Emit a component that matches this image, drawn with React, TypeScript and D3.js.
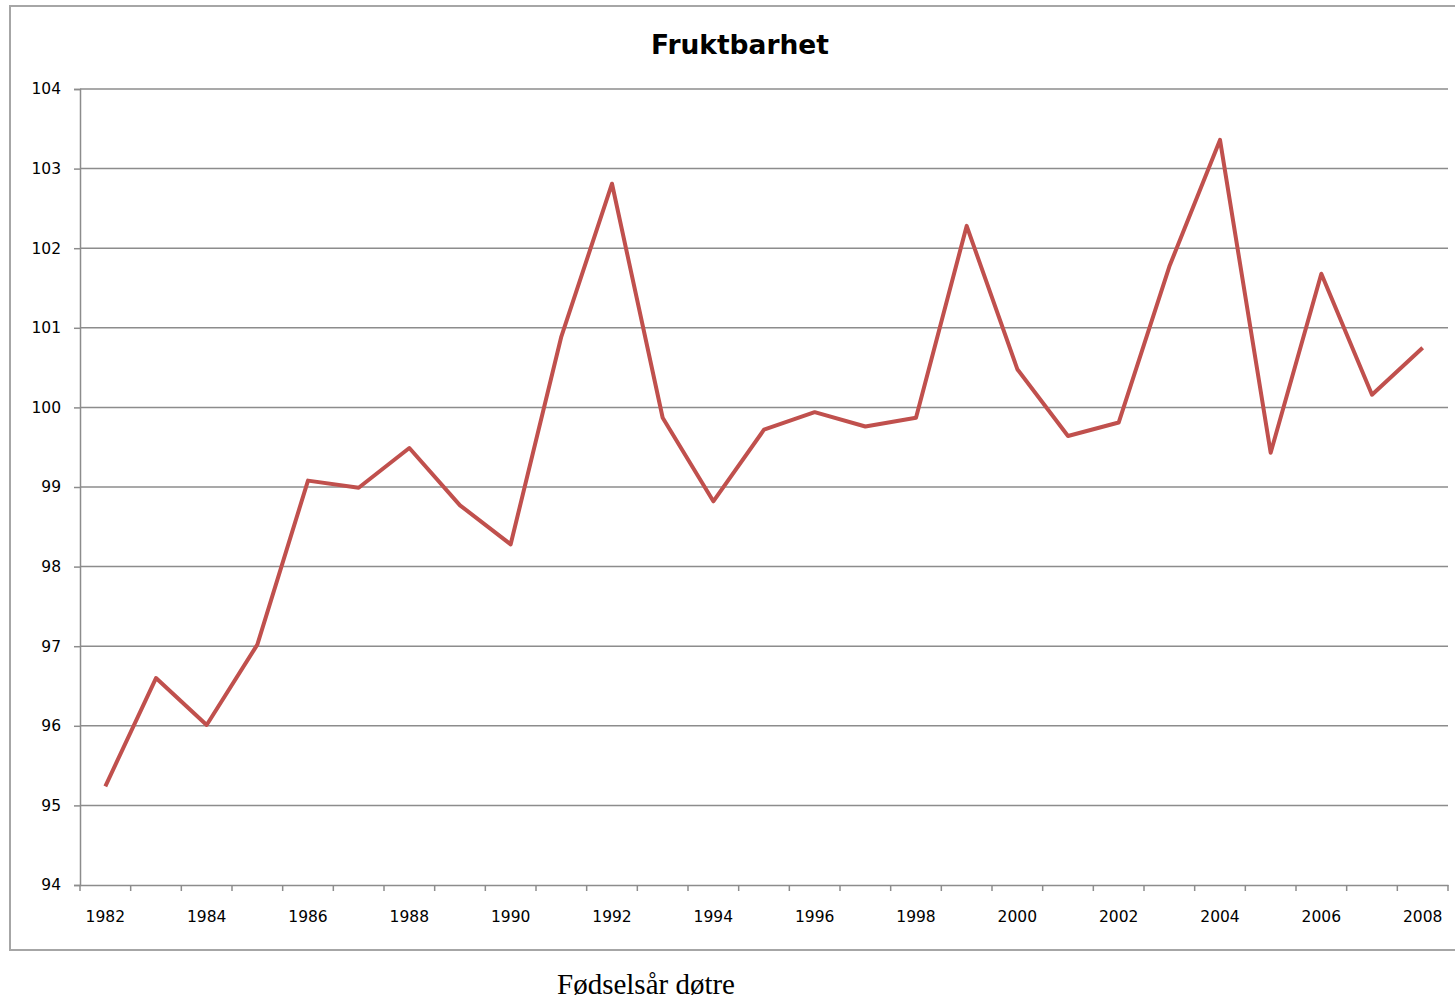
import React, { useEffect, useRef } from "react";
import * as d3 from "d3";

const years = [
  "1982", "1983", "1984", "1985", "1986", "1987", "1988", "1989", "1990",
  "1991", "1992", "1993", "1994", "1995", "1996", "1997", "1998", "1999",
  "2000", "2001", "2002", "2003", "2004", "2005", "2006", "2007", "2008",
];
const fertility = [
  95.24, 96.6, 96.01, 97.02, 99.08, 98.99, 99.49, 98.77, 98.28,
  100.89, 102.81, 99.87, 98.82, 99.72, 99.94, 99.76, 99.87, 102.28,
  100.48, 99.64, 99.81, 101.77, 103.36, 99.43, 101.68, 100.16, 100.75,
];
const yTicks = [94, 95, 96, 97, 98, 99, 100, 101, 102, 103, 104];

// Chart component
const App = () => {
  const ref = useRef<SVGSVGElement>(null);

  useEffect(() => {
    const width = 1455;
    const height = 999;
    const left = 80;
    const right = 1448;
    const top = 89;
    const bottom = 885;
    const gridColor = "#8c8c8c";

    const svg = d3.select(ref.current);
    svg.selectAll("*").remove();
    svg.attr("width", width).attr("height", height);

    // outer chart frame (right edge runs off the page)
    svg
      .append("rect")
      .attr("x", 10)
      .attr("y", 6)
      .attr("width", 1460)
      .attr("height", 944)
      .attr("fill", "white")
      .attr("stroke", "#a6a6a6")
      .attr("stroke-width", 2);

    const x = d3.scaleBand().domain(years).range([left, right]);
    const y = d3.scaleLinear().domain([94, 104]).range([bottom, top]);

    // gridlines
    svg
      .append("g")
      .selectAll("line")
      .data(yTicks.slice(1))
      .join("line")
      .attr("x1", left)
      .attr("x2", right)
      .attr("y1", (d) => y(d))
      .attr("y2", (d) => y(d))
      .attr("stroke", gridColor)
      .attr("stroke-width", 1.5);

    // y axis
    const yAxis = svg
      .append("g")
      .attr("transform", `translate(${left},0)`)
      .call(d3.axisLeft(y).tickValues(yTicks).tickSize(6).tickPadding(13));
    yAxis.select(".domain").attr("stroke", gridColor).attr("stroke-width", 1.5);
    yAxis.selectAll(".tick line").attr("stroke", gridColor).attr("stroke-width", 1.5);
    yAxis
      .selectAll(".tick text")
      .attr("fill", "#000")
      .style("font-family", "DejaVu Sans")
      .style("font-size", "15.5px");

    // x axis: ticks sit between categories
    const xAxis = svg
      .append("g")
      .attr("transform", `translate(0,${bottom})`)
      .call(
        d3
          .axisBottom(x)
          .tickValues(years.filter((_, i) => i % 2 === 0))
          .tickSize(0)
          .tickPadding(26)
      );
    xAxis.select(".domain").attr("stroke", gridColor).attr("stroke-width", 1.5);
    xAxis
      .selectAll(".tick text")
      .attr("fill", "#000")
      .style("font-family", "DejaVu Sans")
      .style("font-size", "15.5px");

    const bounds = years.map((yr) => x(yr) as number).concat([right]);
    svg
      .append("g")
      .selectAll("line")
      .data(bounds)
      .join("line")
      .attr("x1", (d) => d)
      .attr("x2", (d) => d)
      .attr("y1", bottom)
      .attr("y2", bottom + 6)
      .attr("stroke", gridColor)
      .attr("stroke-width", 1.5);

    // data line
    const line = d3
      .line<number>()
      .x((_, i) => (x(years[i]) as number) + x.bandwidth() / 2)
      .y((d) => y(d));

    svg
      .append("path")
      .datum(fertility)
      .attr("d", line)
      .attr("fill", "none")
      .attr("stroke", "#C0504D")
      .attr("stroke-width", 4)
      .attr("stroke-linejoin", "round");

    // title
    svg
      .append("text")
      .attr("x", 740)
      .attr("y", 54)
      .attr("text-anchor", "middle")
      .style("font-family", "DejaVu Sans")
      .style("font-weight", "bold")
      .style("font-size", "26px")
      .attr("textLength", 178)
      .attr("lengthAdjust", "spacingAndGlyphs")
      .text("Fruktbarhet");

    // axis caption below the frame
    svg
      .append("text")
      .attr("x", 646)
      .attr("y", 994)
      .attr("text-anchor", "middle")
      .style("font-family", "Liberation Serif")
      .style("font-size", "29px")
      .text("Fødselsår døtre");
  }, []);

  return (
    <div style={{ position: "absolute", left: 0, top: 0 }}>
      <svg ref={ref} style={{ display: "block" }}></svg>
    </div>
  );
};

export default App;
